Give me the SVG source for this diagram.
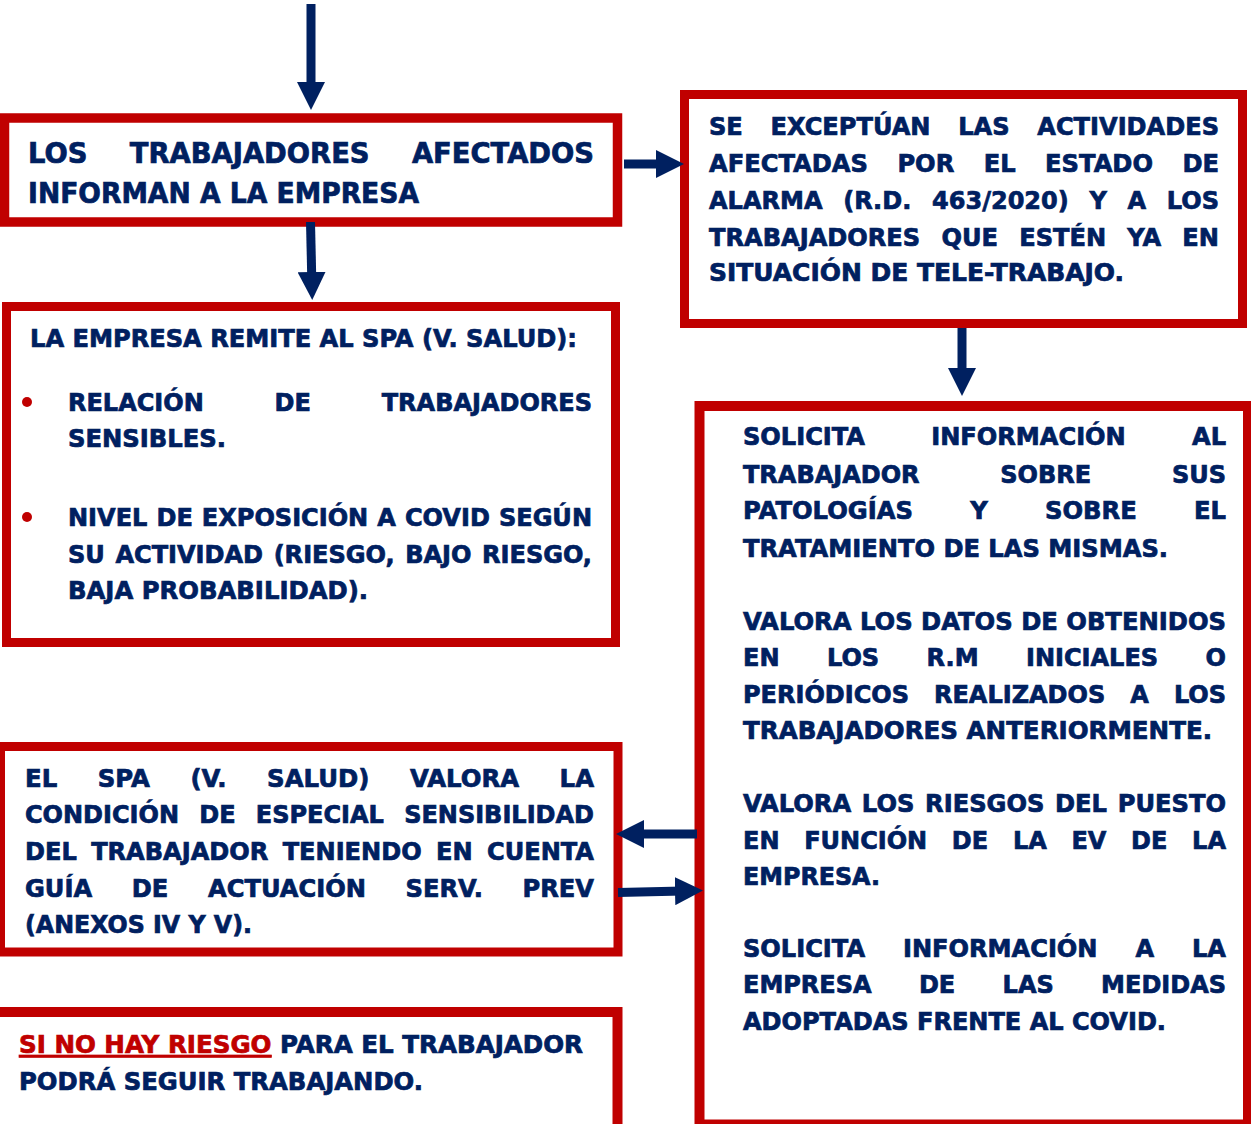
<svg xmlns="http://www.w3.org/2000/svg" width="1251" height="1124" viewBox="0 0 1251 1124">
<style>
.box{fill:#fff;stroke:#C00000}
.t{font-family:"DejaVu Sans","Liberation Sans",sans-serif;font-weight:bold;font-size:24px;fill:#002060;stroke:#002060;stroke-width:0.7px}
.t1{font-size:27.5px}
.red{fill:#C00000;stroke:#C00000;text-decoration:underline}
.con line{stroke:#002060;stroke-width:9;marker-end:url(#ah)}
</style>
<defs>
<marker id="ah" viewBox="0 0 28 28" markerWidth="28" markerHeight="28" refX="8" refY="14" orient="auto" markerUnits="userSpaceOnUse">
<path d="M0,0 L28,14 L0,28 z" fill="#002060"/>
</marker>
</defs>
<rect width="1251" height="1124" fill="#fff"/>

<g id="n1">
<rect class="box" x="4.5" y="118" width="613" height="104" stroke-width="9.5"/>
<text class="t t1" x="28" y="163" textLength="566" lengthAdjust="spacingAndGlyphs" style="word-spacing:33px">LOS TRABAJADORES AFECTADOS</text>
<text class="t t1" x="28" y="202.5" textLength="391" lengthAdjust="spacingAndGlyphs">INFORMAN A LA EMPRESA</text>
</g>

<g id="n2">
<rect class="box" x="684.5" y="94.5" width="558" height="229" stroke-width="9"/>
<text class="t" x="709" y="135" textLength="510" lengthAdjust="spacingAndGlyphs" style="word-spacing:19.3px">SE EXCEPTÚAN LAS ACTIVIDADES</text>
<text class="t" x="709" y="172" textLength="510" lengthAdjust="spacingAndGlyphs" style="word-spacing:20.9px">AFECTADAS POR EL ESTADO DE</text>
<text class="t" x="709" y="209" textLength="510" lengthAdjust="spacingAndGlyphs" style="word-spacing:12.3px">ALARMA (R.D. 463/2020) Y A LOS</text>
<text class="t" x="709" y="245.5" textLength="510" lengthAdjust="spacingAndGlyphs" style="word-spacing:12.8px">TRABAJADORES QUE ESTÉN YA EN</text>
<text class="t" x="709" y="281" textLength="415" lengthAdjust="spacingAndGlyphs">SITUACIÓN DE TELE-TRABAJO.</text>
</g>

<g id="n3">
<rect class="box" x="6.5" y="306.5" width="609" height="336" stroke-width="9"/>
<text class="t" x="30" y="347" textLength="547" lengthAdjust="spacingAndGlyphs">LA EMPRESA REMITE AL SPA (V. SALUD):</text>
<circle cx="27" cy="402" r="5" fill="#C00000"/>
<circle cx="27" cy="517" r="5" fill="#C00000"/>
<text class="t" x="68" y="411" textLength="524" lengthAdjust="spacingAndGlyphs" style="word-spacing:62.5px">RELACIÓN DE TRABAJADORES</text>
<text class="t" x="68" y="447" textLength="158" lengthAdjust="spacingAndGlyphs">SENSIBLES.</text>
<text class="t" x="68" y="526" textLength="524" lengthAdjust="spacingAndGlyphs" style="word-spacing:0.7px">NIVEL DE EXPOSICIÓN A COVID SEGÚN</text>
<text class="t" x="68" y="562.5" textLength="524" lengthAdjust="spacingAndGlyphs" style="word-spacing:2.2px">SU ACTIVIDAD (RIESGO, BAJO RIESGO,</text>
<text class="t" x="68" y="599" textLength="300" lengthAdjust="spacingAndGlyphs">BAJA PROBABILIDAD).</text>
</g>

<g id="n4">
<rect class="box" x="699.5" y="406" width="548.5" height="718.5" stroke-width="10"/>
<text class="t" x="743" y="445" textLength="483" lengthAdjust="spacingAndGlyphs" style="word-spacing:57.6px">SOLICITA INFORMACIÓN AL</text>
<text class="t" x="743" y="482.5" textLength="483" lengthAdjust="spacingAndGlyphs" style="word-spacing:72.4px">TRABAJADOR SOBRE SUS</text>
<text class="t" x="743" y="519" textLength="483" lengthAdjust="spacingAndGlyphs" style="word-spacing:48.3px">PATOLOGÍAS Y SOBRE EL</text>
<text class="t" x="743" y="556.5" textLength="425" lengthAdjust="spacingAndGlyphs">TRATAMIENTO DE LAS MISMAS.</text>
<text class="t" x="743" y="629.5" textLength="483" lengthAdjust="spacingAndGlyphs">VALORA LOS DATOS DE OBTENIDOS</text>
<text class="t" x="743" y="666" textLength="483" lengthAdjust="spacingAndGlyphs" style="word-spacing:39px">EN LOS R.M INICIALES O</text>
<text class="t" x="743" y="702.5" textLength="483" lengthAdjust="spacingAndGlyphs" style="word-spacing:16.7px">PERIÓDICOS REALIZADOS A LOS</text>
<text class="t" x="743" y="739" textLength="469" lengthAdjust="spacingAndGlyphs">TRABAJADORES ANTERIORMENTE.</text>
<text class="t" x="743" y="811.5" textLength="483" lengthAdjust="spacingAndGlyphs" style="word-spacing:2.3px">VALORA LOS RIESGOS DEL PUESTO</text>
<text class="t" x="743" y="848.5" textLength="483" lengthAdjust="spacingAndGlyphs" style="word-spacing:16.35px">EN FUNCIÓN DE LA EV DE LA</text>
<text class="t" x="743" y="884.5" textLength="137" lengthAdjust="spacingAndGlyphs">EMPRESA.</text>
<text class="t" x="743" y="956.5" textLength="483" lengthAdjust="spacingAndGlyphs" style="word-spacing:29.4px">SOLICITA INFORMACIÓN A LA</text>
<text class="t" x="743" y="993" textLength="483" lengthAdjust="spacingAndGlyphs" style="word-spacing:39px">EMPRESA DE LAS MEDIDAS</text>
<text class="t" x="743" y="1029.5" textLength="423" lengthAdjust="spacingAndGlyphs">ADOPTADAS FRENTE AL COVID.</text>
</g>

<g id="n5">
<rect class="box" x="0.5" y="746.5" width="617.5" height="205.5" stroke-width="9"/>
<text class="t" x="25" y="786.5" textLength="569" lengthAdjust="spacingAndGlyphs" style="word-spacing:31.6px">EL SPA (V. SALUD) VALORA LA</text>
<text class="t" x="25" y="823" textLength="569" lengthAdjust="spacingAndGlyphs" style="word-spacing:11.9px">CONDICIÓN DE ESPECIAL SENSIBILIDAD</text>
<text class="t" x="25" y="860" textLength="569" lengthAdjust="spacingAndGlyphs" style="word-spacing:6px">DEL TRABAJADOR TENIENDO EN CUENTA</text>
<text class="t" x="25" y="896.5" textLength="569" lengthAdjust="spacingAndGlyphs" style="word-spacing:31px">GUÍA DE ACTUACIÓN SERV. PREV</text>
<text class="t" x="25" y="933" textLength="227" lengthAdjust="spacingAndGlyphs">(ANEXOS IV Y V).</text>
</g>

<g id="n6">
<rect class="box" x="-10" y="1012" width="627.5" height="200" stroke-width="10"/>
<text class="t" x="19" y="1053" textLength="564" lengthAdjust="spacingAndGlyphs"><tspan class="red">SI NO HAY RIESGO</tspan> PARA EL TRABAJADOR</text>
<text class="t" x="19" y="1089.5" textLength="404" lengthAdjust="spacingAndGlyphs">PODRÁ SEGUIR TRABAJANDO.</text>
</g>

<g id="connectors" class="con">
<line x1="311" y1="4" x2="311" y2="90"/>
<line x1="310.5" y1="222" x2="311.8" y2="280"/>
<line x1="624" y1="164" x2="664" y2="164"/>
<line x1="962" y1="328" x2="962" y2="376"/>
<line x1="697" y1="834" x2="636" y2="834"/>
<line x1="618" y1="892.5" x2="683" y2="891"/>
</g>
</svg>
